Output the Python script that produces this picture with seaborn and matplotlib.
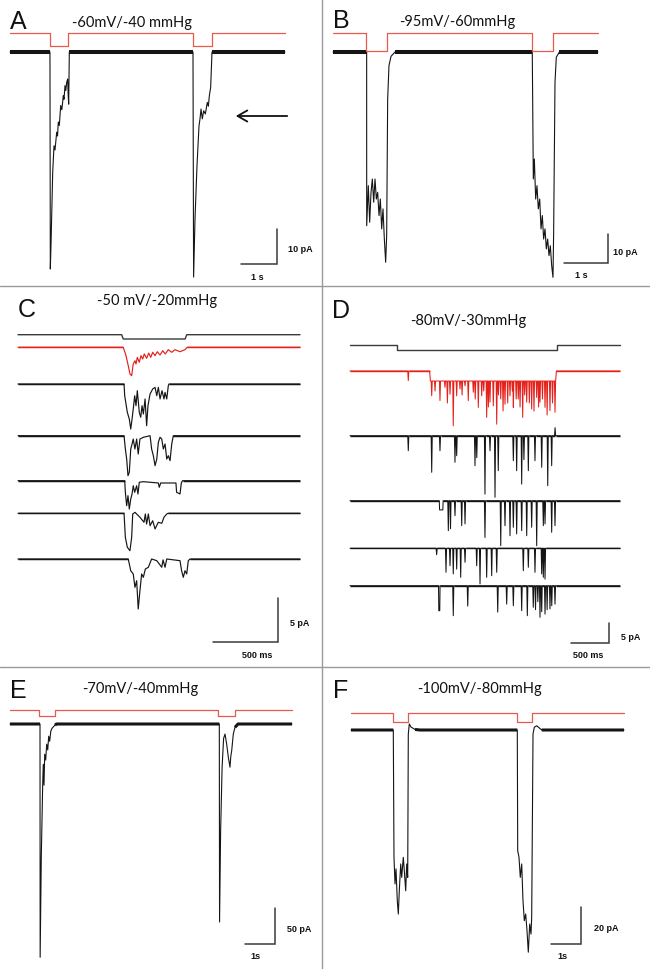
import numpy as np
import matplotlib
matplotlib.use("Agg")
import matplotlib.pyplot as plt
from matplotlib.lines import Line2D
import seaborn as sns

# ---------------- data (time in s, current in pA, pressure in mmHg) ----------------
# A: -60 mV / -40 mmHg
trace_a = [(0, 0), (1.11, 0), (1.12, -62), (1.139, -55), (1.158, -46.8), (1.186, -34.4), (1.222, -26.8),
           (1.25, -28), (1.297, -22.9), (1.32, -24), (1.342, -20), (1.37, -21), (1.408, -15.3), (1.44, -16.5),
           (1.481, -12.5), (1.5, -13.5), (1.528, -9.6), (1.55, -11), (1.574, -8.7), (1.602, -7.7), (1.615, -12),
           (1.63, -14.9), (1.648, 0), (5.083, 0), (5.1, -64.3), (5.139, -47.7), (5.194, -32.6), (5.25, -21.1),
           (5.278, -19.1), (5.306, -16.3), (5.342, -19.1), (5.38, -16.8), (5.426, -17.7), (5.48, -14.4),
           (5.51, -15.5), (5.537, -12.5), (5.574, -10.1), (5.611, 0), (7.64, 0)]
pulses_a = [(1.11, 1.61), (5.083, 5.61)]

# B: -95 mV / -60 mmHg
trace_b = [(0, 0), (0.77, 0), (0.771, -59.9), (0.808, -46.1), (0.839, -58.7), (0.87, -48.4), (0.9, -43.8),
           (0.931, -51.8), (0.961, -43.8), (0.992, -50.7), (1.022, -48.4), (1.053, -56.4), (1.083, -50.7),
           (1.114, -61), (1.144, -54.1), (1.175, -64.5), (1.205, -72.5), (1.228, -63.3), (1.251, -16.2),
           (1.281, -4.7), (1.327, -1.5), (1.42, 0), (4.56, 0), (4.584, -43.8), (4.607, -36.9), (4.638, -50.7),
           (4.668, -46.1), (4.698, -54.1), (4.73, -50.7), (4.76, -61), (4.79, -56.4), (4.82, -64.5),
           (4.851, -61), (4.882, -67.9), (4.912, -64.5), (4.943, -70.2), (4.973, -66.8), (5.004, -73.7),
           (5.034, -77.7), (5.049, -62.2), (5.08, -10.4), (5.11, -1.8), (5.18, 0), (6.064, 0)]
pulses_b = [(0.755, 1.236), (4.554, 5.034)]

# C: -50 mV / -20 mmHg (first trace red = average)
c_red = [(0, 0), (0.801, 0), (0.822, -0.95), (0.839, -2.09), (0.852, -3.03), (0.865, -3.23), (0.877, -1.9),
         (0.89, -1.52), (0.898, -1.9), (0.908, -1.14), (0.923, -1.7), (0.936, -0.95), (0.949, -1.33),
         (0.961, -0.76), (0.979, -1.25), (0.995, -0.65), (1.01, -1.14), (1.025, -0.57), (1.043, -0.95),
         (1.06, -0.5), (1.081, -0.88), (1.101, -0.39), (1.121, -0.76), (1.144, -0.27), (1.17, -0.57),
         (1.195, -0.27), (1.233, -0.5), (1.271, -0.27), (1.288, 0), (2.146, 0)]
c_sweep1 = [(0, 0), (0.807, 0), (0.812, -1.33), (0.832, -3.22), (0.847, -3.98), (0.858, -5.11), (0.868, -3.98),
            (0.877, -2.84), (0.888, -1.33), (0.898, -2.47), (0.908, -0.76), (0.923, -3.22), (0.934, -3.78),
            (0.944, -2.47), (0.954, -3.41), (0.967, -1.7), (0.979, -4.74), (0.989, -2.47), (1.005, -1.14),
            (1.025, -0.57), (1.043, -0.38), (1.056, -1.33), (1.068, -0.38), (1.081, -1.7), (1.096, -0.76),
            (1.111, -1.7), (1.119, -0.95), (1.132, -1.7), (1.144, -0.19), (1.149, 0), (2.146, 0)]
c_sweep2 = [(0, 0), (0.807, 0), (0.817, -1.51), (0.827, -2.65), (0.837, -4.55), (0.847, -4.16), (0.858, -1.51),
            (0.868, -0.94), (0.877, -0.38), (0.89, -1.51), (0.903, -0.38), (0.915, -2.08), (0.928, -0.38),
            (0.954, -0.18), (1.005, 0), (1.017, -1.51), (1.03, -2.27), (1.043, -3.41), (1.056, -2.65),
            (1.068, -0.75), (1.081, -0.18), (1.094, -0.38), (1.106, -1.51), (1.119, -0.94), (1.132, -2.65),
            (1.144, -2.27), (1.157, -2.84), (1.17, -0.94), (1.182, 0), (2.146, 0)]
c_sweep3 = [(0, 0), (0.812, 0), (0.817, -1.32), (0.827, -2.84), (0.837, -1.7), (0.847, -3.22), (0.858, -2.08),
            (0.868, -1.51), (0.877, -0.57), (0.888, -1.32), (0.903, -0.57), (0.913, -1.51), (0.923, -0.18),
            (0.954, -0.11), (1.068, -0.26), (1.075, -0.75), (1.086, -0.26), (1.202, -0.26), (1.207, -1.32),
            (1.233, -1.51), (1.243, -0.26), (1.252, 0), (2.146, 0)]
c_sweep4 = [(0, 0), (0.807, 0), (0.817, -2.73), (0.832, -3.86), (0.852, -4.25), (0.865, -2.73), (0.873, -0.08),
            (0.89, 0.11), (0.928, -0.45), (0.959, -1.02), (0.969, -0.08), (0.979, -1.22), (0.992, -0.08),
            (1.005, -1.41), (1.025, -0.84), (1.043, -1.78), (1.068, -1.02), (1.094, -1.14), (1.111, -0.45),
            (1.132, -0.08), (1.142, 0), (2.146, 0)]
c_sweep5 = [(0, 0), (0.839, 0), (0.858, -1.33), (0.877, -1.7), (0.89, -3.22), (0.903, -2.47), (0.915, -5.68),
            (0.928, -3.6), (0.941, -1.7), (0.954, -2.08), (0.969, -1.14), (0.992, -0.94), (1.017, 0),
            (1.056, -0.19), (1.094, -0.94), (1.104, -0.1), (1.119, -0.94), (1.132, 0), (1.233, -0.19),
            (1.245, -1.33), (1.258, -2.08), (1.271, -1.33), (1.284, -1.7), (1.296, -0.19), (1.309, 0), (2.146, 0)]
pulses_c = [(0.789, 1.284)]

# D: -80 mV / -30 mmHg, channel openings as (time, amplitude[, duration])
d_red = [(0.754, -2.4), (1.057, -6.2), (1.1, -5), (1.164, -7.4), (1.229, -4.1), (1.26, -8), (1.294, -5.8),
         (1.336, -13.7), (1.38, -6.2), (1.423, -4.5), (1.45, -6), (1.488, -3.7), (1.53, -7.4), (1.595, -5.3),
         (1.62, -7), (1.66, -9.1), (1.704, -6.2), (1.73, -5), (1.768, -11.6), (1.79, -9), (1.811, -7.8),
         (1.854, -8.7), (1.898, -13.3), (1.92, -6), (1.95, -7), (1.98, -10), (2.005, -8.3), (2.04, -8),
         (2.07, -6.2), (2.1, -5), (2.113, -9.1), (2.15, -7), (2.177, -7), (2.2, -9), (2.234, -11.6),
         (2.26, -6), (2.286, -7.8), (2.32, -8), (2.35, -9.5), (2.38, -10), (2.415, -6.6), (2.44, -9),
         (2.458, -7.8), (2.49, -7), (2.523, -9.1), (2.55, -11), (2.587, -9.9), (2.62, -8), (2.652, -10.3)]
d_red_floor = (1.03, 2.67, -2.5)
d_sweep1 = [(0.754, -3.75), (1.057, -9.15), (1.164, -3.75), (1.358, -6.65), (1.38, -5), (1.617, -7.5),
            (1.64, -5.5), (1.746, -14.6), (1.811, -3.75), (1.876, -15.4), (1.918, -8.75), (2.113, -6.25),
            (2.156, -8.75), (2.221, -12.1), (2.25, -6), (2.307, -8.75), (2.393, -6.25), (2.48, -7.9),
            (2.558, -12.5), (2.609, -7.5), (2.653, 2)]
d_sweep2 = [(1.18, -2.3, 0.05), (1.272, -7.5), (1.3, -7), (1.358, -3.75), (1.445, -6.25), (1.488, -5.8),
            (1.746, -9.2), (1.95, -11.25), (2.005, -6.25), (2.07, -8.75), (2.113, -6.65), (2.156, -8.3),
            (2.221, -7.5), (2.286, -8.75), (2.35, -6.65), (2.415, -11.25), (2.501, -6.25), (2.523, -5.8),
            (2.609, -7.9), (2.652, -6.25)]
d_sweep3 = [(1.121, -1.6), (1.242, -6), (1.294, -4.35), (1.336, -6.4), (1.38, -5.2), (1.432, -7.25),
            (1.488, -3.5), (1.639, -4.35), (1.682, -8.9), (1.768, -7.25), (1.833, -6.85), (1.898, -6),
            (2.242, -5.6), (2.307, -4.75), (2.393, -6), (2.48, -6.4), (2.501, -7.25), (2.523, -7.7)]
d_sweep4 = [(1.155, -6.25, 0.02), (1.336, -7.5), (1.523, -5.1), (1.911, -6.6), (2.027, -4.6), (2.113, -5),
            (2.221, -6.25), (2.294, -7.5), (2.371, -5.4), (2.4, -6), (2.43, -4), (2.458, -7.9), (2.48, -6.5),
            (2.523, -7.1), (2.55, -6), (2.587, -5.8), (2.61, -5), (2.652, -4.6)]
pulses_d = [(0.604, 2.674)]

# E: -70 mV / -40 mmHg
trace_e = [(0, 0), (1.0, 0), (1.005, -324), (1.043, -185), (1.09, -83), (1.11, -56), (1.133, -85),
           (1.157, -42), (1.19, -50), (1.223, -28), (1.257, -36), (1.29, -17), (1.323, -24), (1.36, -10),
           (1.4, -6), (1.5, -1.5), (1.55, 0), (6.977, 0), (6.985, -275), (7.02, -150), (7.07, -60),
           (7.12, -20), (7.167, -14), (7.223, -28), (7.277, -46), (7.333, -60), (7.36, -45), (7.39, -37),
           (7.443, -14), (7.5, -4.6), (7.6, 0), (9.4, 0)]
pulses_e = [(0.977, 1.5), (6.943, 7.5)]

# F: -100 mV / -80 mmHg
trace_f = [(0, 0), (1.41, 0), (1.433, -69.4), (1.467, -83.9), (1.5, -75.7), (1.543, -93), (1.577, -100.3),
           (1.61, -87.6), (1.657, -73), (1.69, -80.3), (1.743, -69.4), (1.777, -76.7), (1.823, -87.6),
           (1.857, -73), (1.89, -80.3), (1.91, -2.2), (1.943, 3.3), (2.0, 1.6), (2.133, 0.3), (2.3, 0),
           (5.543, 0), (5.557, -65.8), (5.6, -69.4), (5.643, -80.3), (5.69, -73), (5.733, -93),
           (5.777, -103.9), (5.823, -100.3), (5.867, -109.4), (5.91, -121.1), (5.957, -105.7), (6.0, -111.2),
           (6.023, -102.1), (6.067, -2.2), (6.11, 1.5), (6.19, 2.3), (6.357, 0), (9.1, 0)]
pulses_f = [(1.39, 1.91), (5.543, 6.043)]

titles = ["-60mV/-40 mmHg", "-95mV/-60mmHg", "-50 mV/-20mmHg", "-80mV/-30mmHg", "-70mV/-40mmHg", "-100mV/-80mmHg"]
pressures = [-40, -60, -20, -30, -40, -80]
time_bars = [(1, "1 s"), (1, "1 s"), (0.5, "500 ms"), (0.5, "500 ms"), (1, "1s"), (1, "1s")]
current_bars = [(10, "10 pA"), (10, "10 pA"), (5, "5 pA"), (5, "5 pA"), (50, "50 pA"), (20, "20 pA")]

# ---------------- figure ----------------
sns.set_theme(style="white")
plt.rcParams["font.family"] = ["Liberation Sans", "DejaVu Sans"]

W, H = 650, 970
fig = plt.figure(figsize=(W / 100, H / 100), dpi=100)
fig.patch.set_facecolor("white")

TRACE = "#151515"
STIM_RED = "#e8584f"
RED = "#e4211c"
BAR = "#3a3a3a"


def px_axes(box, x0, y0, px_x, px_y):
    '''Transparent axes over a pixel box; (x0, y0) is where t=0 / value 0 sits'''
    left, top, right, bottom = box
    ax = fig.add_axes([left / W, 1 - bottom / H, (right - left) / W, (bottom - top) / H])
    ax.set_xlim((left - x0) / px_x, (right - x0) / px_x)
    ax.set_ylim((y0 - bottom) / px_y, (y0 - top) / px_y)
    ax.set_axis_off()
    ax.patch.set_alpha(0)
    return ax


def draw_trace(ax, pts, color, lw=0.8, offset=0.0, band=None):
    t, i = np.array(pts, dtype=float).T
    sns.lineplot(x=t, y=i + offset, ax=ax, color=color, lw=lw, sort=False, estimator=None)
    if band:
        band_lw, tol = band
        flat = np.where(np.abs(i) <= tol, i, np.nan)
        ax.plot(t, flat + offset, color=color, lw=band_lw, solid_capstyle="butt")


def step_pts(pulses, amp, t_end, ramp=0.0):
    pts = [(0, 0)]
    for on, off in pulses:
        pts += [(on, 0), (on + ramp, amp), (off - ramp, amp), (off, 0)]
    pts.append((t_end, 0))
    return pts


def spike_pts(events, t_end, floor=None, w=0.007):
    pts = [(0.0, 0.0), (t_end, 0.0)]
    if floor:
        f0, f1, lvl = floor
        pts += [(f0, 0.0), (f0 + 0.01, lvl), (f1 - 0.01, lvl), (f1, 0.0)]
    for ev in events:
        tc, amp = ev[0], ev[1]
        lvl = floor[2] if floor and floor[0] < tc < floor[1] else 0.0
        if len(ev) > 2:
            h = ev[2] / 2
            pts += [(tc - h, lvl), (tc - h + 0.004, amp), (tc + h - 0.004, amp), (tc + h, lvl)]
        else:
            pts += [(tc - w, lvl), (tc, amp), (tc + w, lvl)]
    pts.sort(key=lambda p: p[0])
    return pts


# layout: box, trace origin px, px per s, px per pA, stimulus px (0 level, step level), stim end time
panels = [
    dict(box=(0, 0, 322, 287), x0=10, y0=53, sx=36, sy=3.5, stim=(34, 47), end=7.64, pulses=pulses_a,
         letter=(10, 29), title=(132, 27), bar=(277, 265), ilab=(288, 249), tlab=(257, 277)),
    dict(box=(322, 0, 650, 287), x0=333, y0=53, sx=43.7, sy=2.9, stim=(34, 52), end=6.064, pulses=pulses_b,
         letter=(333, 28), title=(457, 26), bar=(607.7, 264), ilab=(613, 253), tlab=(581, 276)),
    dict(box=(0, 287, 322, 668), x0=18, y0=348.3, sx=131.4, sy=8.8, stim=(335.7, 340), end=2.146,
         pulses=pulses_c, letter=(18, 317), title=(157, 305), bar=(278.3, 643.3), ilab=(290, 624),
         tlab=(257, 656)),
    dict(box=(322, 287, 650, 668), x0=350, y0=372, sx=77.3, sy=4.0, stim=(346, 351), end=3.493,
         pulses=pulses_d, letter=(332, 318), title=(468, 325), bar=(609.3, 644), ilab=(621, 637),
         tlab=(588, 656)),
    dict(box=(0, 668, 322, 970), x0=10, y0=725, sx=30, sy=0.72, stim=(711, 717), end=9.39, pulses=pulses_e,
         letter=(10, 698), title=(140, 693), bar=(275, 945), ilab=(287, 930), tlab=(255, 957)),
    dict(box=(322, 668, 650, 970), x0=351, y0=731, sx=30, sy=1.835, stim=(714.3, 723.3), end=9.1,
         pulses=pulses_f, letter=(333, 698), title=(480, 693), bar=(581, 945), ilab=(594, 929), tlab=(562, 957)),
]

axes = []
for k, p in enumerate(panels):
    ax = px_axes(p["box"], p["x0"], p["y0"], p["sx"], p["sy"])
    axes.append(ax)
    s0, s1 = p["stim"]
    amp = pressures[k]
    sax = px_axes(p["box"], p["x0"], s0, p["sx"], (s1 - s0) / abs(amp))
    stim_color = BAR if k in (2, 3) else STIM_RED
    ramp = 0.012 if k == 2 else 0.0
    draw_trace(sax, step_pts(p["pulses"], amp, p["end"], ramp), stim_color, lw=1.0 if k in (2, 3) else 0.9)

    # scale bar: corner in px, lengths in data units
    cx, cy = p["bar"]
    ct = (cx - p["x0"]) / p["sx"]
    ci = (p["y0"] - cy) / p["sy"]
    dt, tl = time_bars[k]
    di, il = current_bars[k]
    ax.plot([ct - dt, ct, ct], [ci, ci, ci + di], color=BAR, lw=1.1, solid_joinstyle="miter")

    fig.text(p["letter"][0] / W, 1 - p["letter"][1] / H, "ABCDEF"[k], fontsize=18, va="baseline",
             ha="left", color="#111111")
    fig.text(p["title"][0] / W, 1 - p["title"][1] / H, titles[k], fontsize=10.5, va="baseline",
             ha="center", family=["Lato", "DejaVu Sans"], color="#111111")
    fig.text(p["ilab"][0] / W, 1 - p["ilab"][1] / H, il, fontsize=6.5, fontweight="bold", va="center",
             ha="left", color="#111111")
    fig.text(p["tlab"][0] / W, 1 - p["tlab"][1] / H, tl, fontsize=6.5, fontweight="bold", va="center",
             ha="center", color="#111111")

# whole-cell style recordings (A, B, E, F): noisy baseline drawn as a thicker band
draw_trace(axes[0], trace_a, TRACE, lw=0.8, band=(2.9, 0.5))
draw_trace(axes[1], trace_b, TRACE, lw=0.8, band=(2.9, 0.5))
draw_trace(axes[4], trace_e, TRACE, lw=0.8, band=(2.2, 5))
draw_trace(axes[5], trace_f, TRACE, lw=0.8, band=(2.2, 1))

# C: sweeps stacked, baselines at these pixel rows
c_rows = [348.3, 385, 436.7, 481.7, 514.3, 560]
for n, sweep in enumerate([c_red, c_sweep1, c_sweep2, c_sweep3, c_sweep4, c_sweep5]):
    off = (c_rows[0] - c_rows[n]) / panels[2]["sy"]
    draw_trace(axes[2], sweep, RED if n == 0 else TRACE, lw=0.85, offset=off, band=(1.05, 0.05))

# D: single-channel sweeps
d_rows = [372, 436.7, 501.7, 549.3, 586.7]
d_end = panels[3]["end"]
d_sweeps = [spike_pts(d_red, d_end, floor=d_red_floor)] + [spike_pts(s, d_end) for s in
                                                          [d_sweep1, d_sweep2, d_sweep3, d_sweep4]]
for n, sweep in enumerate(d_sweeps):
    off = (d_rows[0] - d_rows[n]) / panels[3]["sy"]
    draw_trace(axes[3], sweep, RED if n == 0 else TRACE, lw=0.75, offset=off, band=(1.0, 0.01))

# arrow in A
fig.add_artist(matplotlib.patches.FancyArrowPatch((290, H - 117), (233, H - 117), transform=None,
                                                  arrowstyle="->,head_length=7,head_width=4", lw=1.3,
                                                  color="#111111", mutation_scale=1))

# panel dividers
for x in [322]:
    fig.add_artist(Line2D([x / W, x / W], [0, 1], transform=fig.transFigure, color="#9a9a9a", lw=1.0))
for y in [287, 668]:
    fig.add_artist(Line2D([0, 1], [1 - y / H, 1 - y / H], transform=fig.transFigure, color="#9a9a9a", lw=1.0))

fig.savefig("out.png", dpi=100, facecolor="white")
